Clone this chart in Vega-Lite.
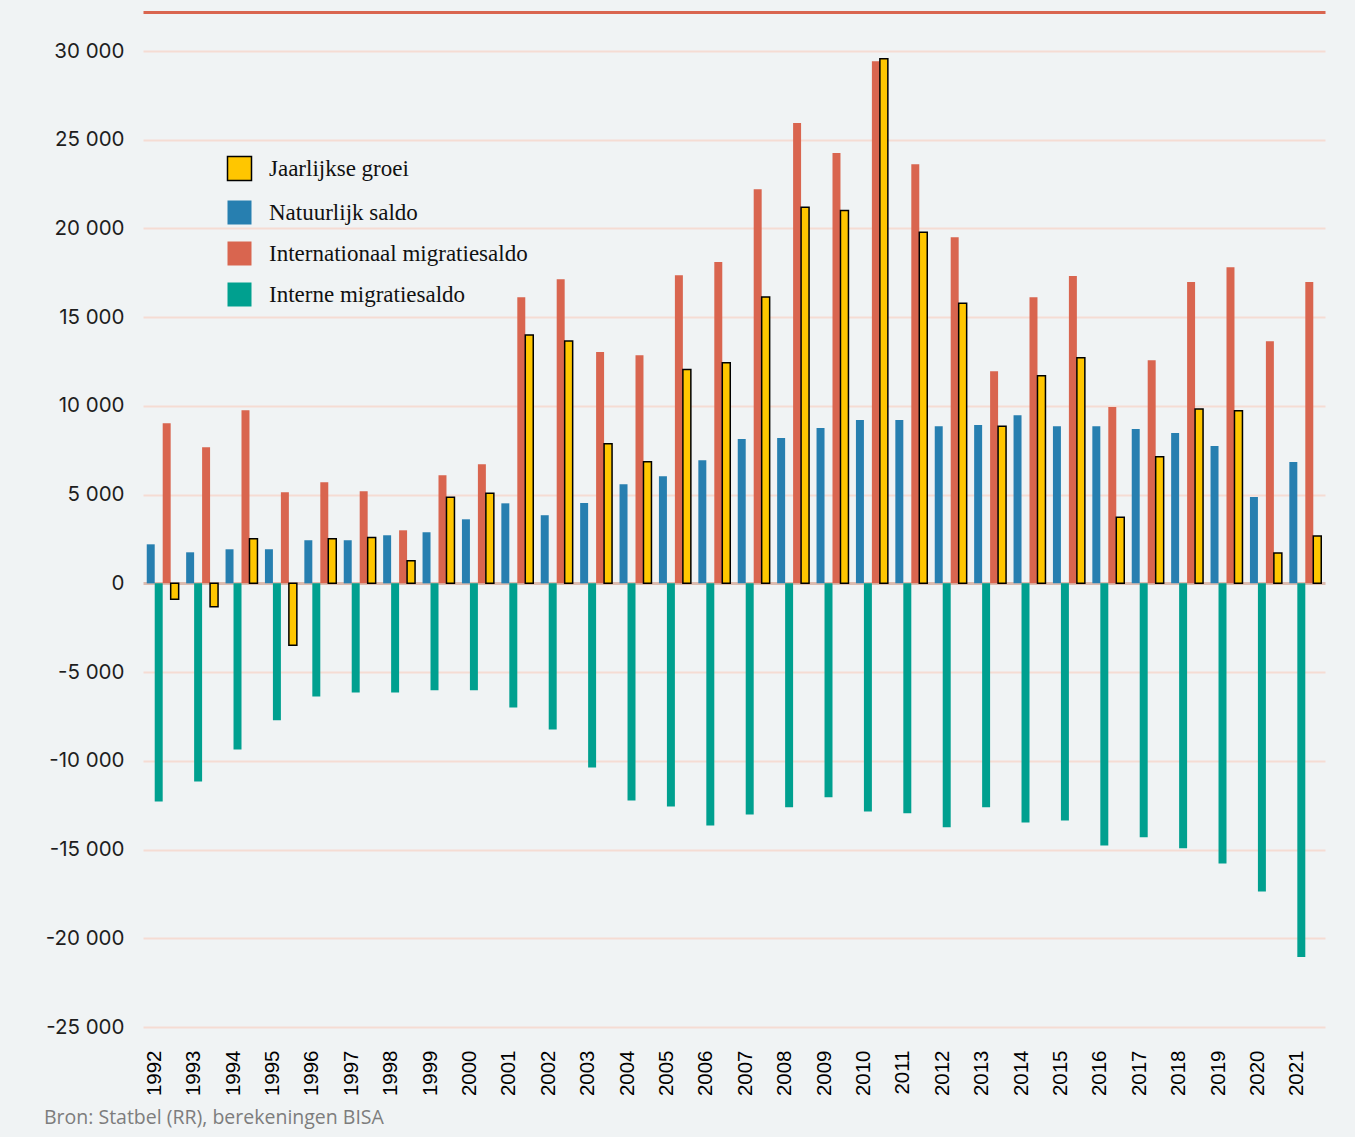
{
  "$schema": "https://vega.github.io/schema/vega-lite/v6.json",
  "width": 1182,
  "height": 976,
  "autosize": {"type": "none"},
  "padding": {"left": 143, "top": 51, "right": 30, "bottom": 110},
  "background": "#f0f3f4",
  "title": {
    "text": "Bron: Statbel (RR), berekeningen BISA",
    "orient": "bottom",
    "anchor": "start",
    "frame": "group",
    "dx": -99,
    "offset": 13,
    "font": "Open Sans",
    "fontSize": 19.5,
    "fontWeight": "normal",
    "color": "#7d7d7d"
  },
  "config": {
    "view": {"stroke": null},
    "axisY": {
      "grid": true,
      "domain": false,
      "ticks": false,
      "labelFont": "Inter",
      "labelFontSize": 20.5,
      "labelColor": "#1e1e1e",
      "labelPadding": 19
    }
  },
  "data": {
    "values": [
      {"year": 1992, "series": "Natuurlijk saldo", "value": 2200},
      {"year": 1993, "series": "Natuurlijk saldo", "value": 1750},
      {"year": 1994, "series": "Natuurlijk saldo", "value": 1920},
      {"year": 1995, "series": "Natuurlijk saldo", "value": 1920},
      {"year": 1996, "series": "Natuurlijk saldo", "value": 2430},
      {"year": 1997, "series": "Natuurlijk saldo", "value": 2430},
      {"year": 1998, "series": "Natuurlijk saldo", "value": 2710},
      {"year": 1999, "series": "Natuurlijk saldo", "value": 2880},
      {"year": 2000, "series": "Natuurlijk saldo", "value": 3610},
      {"year": 2001, "series": "Natuurlijk saldo", "value": 4510},
      {"year": 2002, "series": "Natuurlijk saldo", "value": 3840},
      {"year": 2003, "series": "Natuurlijk saldo", "value": 4530},
      {"year": 2004, "series": "Natuurlijk saldo", "value": 5590},
      {"year": 2005, "series": "Natuurlijk saldo", "value": 6040},
      {"year": 2006, "series": "Natuurlijk saldo", "value": 6940},
      {"year": 2007, "series": "Natuurlijk saldo", "value": 8130},
      {"year": 2008, "series": "Natuurlijk saldo", "value": 8190},
      {"year": 2009, "series": "Natuurlijk saldo", "value": 8750},
      {"year": 2010, "series": "Natuurlijk saldo", "value": 9200},
      {"year": 2011, "series": "Natuurlijk saldo", "value": 9200},
      {"year": 2012, "series": "Natuurlijk saldo", "value": 8860},
      {"year": 2013, "series": "Natuurlijk saldo", "value": 8920},
      {"year": 2014, "series": "Natuurlijk saldo", "value": 9480},
      {"year": 2015, "series": "Natuurlijk saldo", "value": 8860},
      {"year": 2016, "series": "Natuurlijk saldo", "value": 8860},
      {"year": 2017, "series": "Natuurlijk saldo", "value": 8700},
      {"year": 2018, "series": "Natuurlijk saldo", "value": 8470},
      {"year": 2019, "series": "Natuurlijk saldo", "value": 7740},
      {"year": 2020, "series": "Natuurlijk saldo", "value": 4860},
      {"year": 2021, "series": "Natuurlijk saldo", "value": 6840},
      {"year": 1992, "series": "Interne migratiesaldo", "value": -12290},
      {"year": 1993, "series": "Interne migratiesaldo", "value": -11160},
      {"year": 1994, "series": "Interne migratiesaldo", "value": -9360},
      {"year": 1995, "series": "Interne migratiesaldo", "value": -7720},
      {"year": 1996, "series": "Interne migratiesaldo", "value": -6370},
      {"year": 1997, "series": "Interne migratiesaldo", "value": -6150},
      {"year": 1998, "series": "Interne migratiesaldo", "value": -6150},
      {"year": 1999, "series": "Interne migratiesaldo", "value": -6030},
      {"year": 2000, "series": "Interne migratiesaldo", "value": -6030},
      {"year": 2001, "series": "Interne migratiesaldo", "value": -6990},
      {"year": 2002, "series": "Interne migratiesaldo", "value": -8230},
      {"year": 2003, "series": "Interne migratiesaldo", "value": -10370},
      {"year": 2004, "series": "Interne migratiesaldo", "value": -12230},
      {"year": 2005, "series": "Interne migratiesaldo", "value": -12570},
      {"year": 2006, "series": "Interne migratiesaldo", "value": -13640},
      {"year": 2007, "series": "Interne migratiesaldo", "value": -13020},
      {"year": 2008, "series": "Interne migratiesaldo", "value": -12620},
      {"year": 2009, "series": "Interne migratiesaldo", "value": -12060},
      {"year": 2010, "series": "Interne migratiesaldo", "value": -12850},
      {"year": 2011, "series": "Interne migratiesaldo", "value": -12960},
      {"year": 2012, "series": "Interne migratiesaldo", "value": -13750},
      {"year": 2013, "series": "Interne migratiesaldo", "value": -12620},
      {"year": 2014, "series": "Interne migratiesaldo", "value": -13470},
      {"year": 2015, "series": "Interne migratiesaldo", "value": -13360},
      {"year": 2016, "series": "Interne migratiesaldo", "value": -14770},
      {"year": 2017, "series": "Interne migratiesaldo", "value": -14310},
      {"year": 2018, "series": "Interne migratiesaldo", "value": -14930},
      {"year": 2019, "series": "Interne migratiesaldo", "value": -15780},
      {"year": 2020, "series": "Interne migratiesaldo", "value": -17360},
      {"year": 2021, "series": "Interne migratiesaldo", "value": -21060},
      {"year": 1992, "series": "Internationaal migratiesaldo", "value": 9020},
      {"year": 1993, "series": "Internationaal migratiesaldo", "value": 7670},
      {"year": 1994, "series": "Internationaal migratiesaldo", "value": 9760},
      {"year": 1995, "series": "Internationaal migratiesaldo", "value": 5130},
      {"year": 1996, "series": "Internationaal migratiesaldo", "value": 5700},
      {"year": 1997, "series": "Internationaal migratiesaldo", "value": 5190},
      {"year": 1998, "series": "Internationaal migratiesaldo", "value": 2990},
      {"year": 1999, "series": "Internationaal migratiesaldo", "value": 6090},
      {"year": 2000, "series": "Internationaal migratiesaldo", "value": 6710},
      {"year": 2001, "series": "Internationaal migratiesaldo", "value": 16130},
      {"year": 2002, "series": "Internationaal migratiesaldo", "value": 17140},
      {"year": 2003, "series": "Internationaal migratiesaldo", "value": 13040},
      {"year": 2004, "series": "Internationaal migratiesaldo", "value": 12860},
      {"year": 2005, "series": "Internationaal migratiesaldo", "value": 17360},
      {"year": 2006, "series": "Internationaal migratiesaldo", "value": 18110},
      {"year": 2007, "series": "Internationaal migratiesaldo", "value": 22210},
      {"year": 2008, "series": "Internationaal migratiesaldo", "value": 25940},
      {"year": 2009, "series": "Internationaal migratiesaldo", "value": 24250},
      {"year": 2010, "series": "Internationaal migratiesaldo", "value": 29420},
      {"year": 2011, "series": "Internationaal migratiesaldo", "value": 23620},
      {"year": 2012, "series": "Internationaal migratiesaldo", "value": 19510},
      {"year": 2013, "series": "Internationaal migratiesaldo", "value": 11960},
      {"year": 2014, "series": "Internationaal migratiesaldo", "value": 16130},
      {"year": 2015, "series": "Internationaal migratiesaldo", "value": 17320},
      {"year": 2016, "series": "Internationaal migratiesaldo", "value": 9940},
      {"year": 2017, "series": "Internationaal migratiesaldo", "value": 12580},
      {"year": 2018, "series": "Internationaal migratiesaldo", "value": 16980},
      {"year": 2019, "series": "Internationaal migratiesaldo", "value": 17820},
      {"year": 2020, "series": "Internationaal migratiesaldo", "value": 13650},
      {"year": 2021, "series": "Internationaal migratiesaldo", "value": 16980},
      {"year": 1992, "series": "Jaarlijkse groei", "value": -900},
      {"year": 1993, "series": "Jaarlijkse groei", "value": -1320},
      {"year": 1994, "series": "Jaarlijkse groei", "value": 2520},
      {"year": 1995, "series": "Jaarlijkse groei", "value": -3490},
      {"year": 1996, "series": "Jaarlijkse groei", "value": 2520},
      {"year": 1997, "series": "Jaarlijkse groei", "value": 2580},
      {"year": 1998, "series": "Jaarlijkse groei", "value": 1280},
      {"year": 1999, "series": "Jaarlijkse groei", "value": 4850},
      {"year": 2000, "series": "Jaarlijkse groei", "value": 5080},
      {"year": 2001, "series": "Jaarlijkse groei", "value": 13990},
      {"year": 2002, "series": "Jaarlijkse groei", "value": 13660},
      {"year": 2003, "series": "Jaarlijkse groei", "value": 7870},
      {"year": 2004, "series": "Jaarlijkse groei", "value": 6860},
      {"year": 2005, "series": "Jaarlijkse groei", "value": 12050},
      {"year": 2006, "series": "Jaarlijkse groei", "value": 12430},
      {"year": 2007, "series": "Jaarlijkse groei", "value": 16140},
      {"year": 2008, "series": "Jaarlijkse groei", "value": 21190},
      {"year": 2009, "series": "Jaarlijkse groei", "value": 21010},
      {"year": 2010, "series": "Jaarlijkse groei", "value": 29560},
      {"year": 2011, "series": "Jaarlijkse groei", "value": 19780},
      {"year": 2012, "series": "Jaarlijkse groei", "value": 15790},
      {"year": 2013, "series": "Jaarlijkse groei", "value": 8860},
      {"year": 2014, "series": "Jaarlijkse groei", "value": 11700},
      {"year": 2015, "series": "Jaarlijkse groei", "value": 12710},
      {"year": 2016, "series": "Jaarlijkse groei", "value": 3720},
      {"year": 2017, "series": "Jaarlijkse groei", "value": 7140},
      {"year": 2018, "series": "Jaarlijkse groei", "value": 9820},
      {"year": 2019, "series": "Jaarlijkse groei", "value": 9730},
      {"year": 2020, "series": "Jaarlijkse groei", "value": 1710},
      {"year": 2021, "series": "Jaarlijkse groei", "value": 2670}
    ]
  },
  "encoding": {
    "xOffset": {
      "field": "series",
      "type": "nominal",
      "scale": {
        "domain": ["Natuurlijk saldo", "Interne migratiesaldo", "Internationaal migratiesaldo", "Jaarlijkse groei"],
        "paddingInner": 0,
        "paddingOuter": 0
      }
    },
    "y": {
      "field": "value",
      "type": "quantitative",
      "scale": {"domain": [-25000, 30000], "nice": false, "zero": false},
      "axis": {
        "title": null,
        "values": [-25000, -20000, -15000, -10000, -5000, 0, 5000, 10000, 15000, 20000, 25000, 30000],
        "labelExpr": "replace(replace(format(datum.value, ','), ',', ' '), '\u2212', '-')",
        "gridColor": {"condition": {"test": "datum.value === 0", "value": "#dcbcb0"}, "value": "#f5dcd3"},
        "gridWidth": {"condition": {"test": "datum.value === 0", "value": 3}, "value": 2}
      }
    },
    "color": {
      "field": "series",
      "type": "nominal",
      "scale": {
        "domain": ["Jaarlijkse groei", "Natuurlijk saldo", "Internationaal migratiesaldo", "Interne migratiesaldo"],
        "range": ["#ffc600", "#277fb0", "#d9654f", "#00a08f"]
      },
      "legend": {
        "title": null,
        "orient": "none",
        "legendX": 85,
        "legendY": 106,
        "padding": 0,
        "symbolType": "square",
        "symbolSize": 576,
        "rowPadding": 16,
        "labelFont": "Liberation Serif",
        "labelFontSize": 23,
        "labelColor": "#111111",
        "labelOffset": 18,
        "labelLimit": 400,
        "encode": {
          "symbols": {
            "update": {
              "stroke": {"signal": "datum.value === 'Jaarlijkse groei' ? '#000000' : 'transparent'"},
              "strokeWidth": {"signal": "datum.value === 'Jaarlijkse groei' ? 1.5 : 0"}
            }
          }
        }
      }
    }
  },
  "layer": [
    {
      "transform": [{"filter": "datum.series !== 'Jaarlijkse groei'"}],
      "mark": {"type": "bar"},
      "encoding": {
        "x": {
          "field": "year",
          "type": "ordinal",
          "scale": {"paddingInner": 0.19, "paddingOuter": 0.095},
          "axis": {
            "title": null,
            "orient": "bottom",
            "domain": false,
            "ticks": false,
            "grid": false,
            "labelAngle": 270,
            "labelFont": "Liberation Sans",
            "labelFontSize": 20.5,
            "labelColor": "#000000",
            "labelPadding": 23,
            "labelOffset": -8
          }
        }
      }
    },
    {
      "transform": [{"filter": "datum.series === 'Jaarlijkse groei'"}],
      "mark": {"type": "bar", "stroke": "#000000", "strokeWidth": 1.5},
      "encoding": {
        "x": {
          "field": "year",
          "type": "ordinal",
          "scale": {"paddingInner": 0.19, "paddingOuter": 0.095},
          "axis": {
            "title": null,
            "orient": "top",
            "labels": false,
            "ticks": false,
            "grid": false,
            "domain": true,
            "domainColor": "#d9654f",
            "domainWidth": 3,
            "offset": 39
          }
        }
      }
    }
  ],
  "resolve": {"axis": {"x": "independent"}}
}
